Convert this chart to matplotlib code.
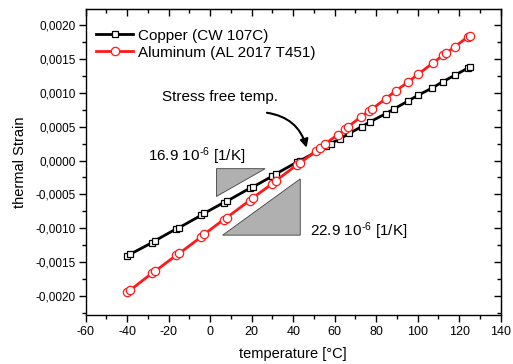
import matplotlib
matplotlib.use("Agg")
import matplotlib.pyplot as plt
from matplotlib.ticker import MultipleLocator, FuncFormatter
from matplotlib.patches import Polygon

plt.rcParams['font.family'] = ['Liberation Sans', 'DejaVu Sans']
plt.rcParams['axes.unicode_minus'] = False
plt.rcParams['mathtext.fontset'] = 'custom'
plt.rcParams['mathtext.rm'] = 'Liberation Sans'
plt.rcParams['mathtext.default'] = 'regular'

# Copper (CW 107C) measurements: temperature [°C] and thermal strain
cu_temp = [-40, -38.5, -28, -26.5, -16.5, -15, -4.5, -3, 6.5, 8, 19, 20.5,
           30, 31.5, 42, 43.5, 56, 58, 62.5, 67, 73, 77, 84.5, 88.5, 95.5,
           100, 107, 112, 118, 124, 125]
cu_strain = [-0.00141, -0.00138, -0.00121, -0.00118, -0.00101, -0.00099,
             -0.00081, -0.00078, -0.00062, -0.00060, -0.00041, -0.00039,
             -0.00023, -0.00020, -0.00002, 0.00000, 0.00021, 0.00025,
             0.00032, 0.00040, 0.00050, 0.00057, 0.00069, 0.00076, 0.00088,
             0.00096, 0.00107, 0.00116, 0.00126, 0.00136, 0.00138]

# Aluminum (AL 2017 T451) measurements
al_temp = [-40, -38.5, -28, -26.5, -16.5, -15, -4.5, -3, 6.5, 8, 19, 20.5,
           30, 31.5, 42, 43.5, 51, 53, 55.5, 61.5, 65, 66.5, 72.5, 76.5, 78,
           84.5, 89.5, 95.5, 100, 107.5, 112, 113.5, 118, 124, 125]
al_strain = [-0.00194, -0.00191, -0.00166, -0.00163, -0.00140, -0.00137,
             -0.00113, -0.00109, -0.00087, -0.00084, -0.00059, -0.00055,
             -0.00034, -0.00030, -0.00006, -0.00003, 0.00014, 0.00019,
             0.00025, 0.00038, 0.00046, 0.00050, 0.00064, 0.00073, 0.00076,
             0.00091, 0.00103, 0.00116, 0.00127, 0.00144, 0.00155, 0.00158,
             0.00168, 0.00182, 0.00184]

# Slope triangles (expansion coefficients)
cu_tri_x = [3, 26.5, 3]
cu_tri_y = [-0.00012, -0.00012, -0.00053]
al_tri_x = [6, 43.4, 43.4]
al_tri_y = [-0.00110, -0.00027, -0.00110]

fig = plt.figure(figsize=(5.13, 3.64), dpi=100)
ax = fig.add_axes([85.7 / 513, 1 - 314.5 / 364, (500.7 - 85.7) / 513, (314.5 - 9.3) / 364])

ax.plot(cu_temp, cu_strain, color='black', lw=2, marker='s', ms=5,
        mfc='white', mec='black', mew=0.9, label='Copper (CW 107C)', zorder=3)
ax.plot(al_temp, al_strain, color='#ff1a1a', lw=2, marker='o', ms=6,
        mfc='white', mec='#ff1a1a', mew=0.9, label='Aluminum (AL 2017 T451)', zorder=4)

for tx, ty in ((cu_tri_x, cu_tri_y), (al_tri_x, al_tri_y)):
    ax.add_patch(Polygon(list(zip(tx, ty)), closed=True, facecolor='#b0b0b0',
                         edgecolor='#404040', lw=0.6, zorder=2))

ax.text(-30, -0.00001, r'16.9 10$^{\text{-6}}$ [1/K]', fontsize=11, ha='left', va='baseline')
ax.text(48.3, -0.00111, r'22.9 10$^{\text{-6}}$ [1/K]', fontsize=11, ha='left', va='baseline')

ax.annotate('', xy=(46.8, 0.00015), xytext=(26.0, 0.00071),
            arrowprops=dict(arrowstyle='-|>', color='black', lw=1.5,
                            connectionstyle='arc3,rad=-0.35', mutation_scale=12))
ax.text(-23.2, 0.00094, 'Stress free temp.', fontsize=11, ha='left', va='center')

ax.set_xlim(-60, 140)
ax.set_ylim(-0.00227, 0.00223)
ax.xaxis.set_major_locator(MultipleLocator(20))
ax.xaxis.set_minor_locator(MultipleLocator(10))
ax.yaxis.set_major_locator(MultipleLocator(0.0005))
ax.yaxis.set_minor_locator(MultipleLocator(0.00025))
ax.yaxis.set_major_formatter(FuncFormatter(lambda v, p: f"{v:.4f}".replace('.', ',').replace('-0,0000', '0,0000')))
ax.xaxis.set_major_formatter(FuncFormatter(lambda v, p: f"{v:.0f}"))
ax.tick_params(which='major', direction='out', length=5, width=1, labelsize=8.5, pad=2)
ax.tick_params(axis='x', which='major', labelsize=9, pad=3)
ax.tick_params(which='minor', direction='out', length=3, width=1)

# inward ticks on the top and right frame
top = ax.secondary_xaxis('top')
top.xaxis.set_major_locator(MultipleLocator(20))
top.xaxis.set_minor_locator(MultipleLocator(10))
top.tick_params(which='major', direction='in', length=5, width=1, labeltop=False)
top.tick_params(which='minor', direction='in', length=3, width=1)
right = ax.secondary_yaxis('right')
right.yaxis.set_major_locator(MultipleLocator(0.0005))
right.yaxis.set_minor_locator(MultipleLocator(0.00025))
right.tick_params(which='major', direction='in', length=5, width=1, labelright=False)
right.tick_params(which='minor', direction='in', length=3, width=1)

for s in ax.spines.values():
    s.set_linewidth(1)

ax.set_xlabel('temperature [°C]', fontsize=10.5, labelpad=7)
ax.set_ylabel('thermal Strain', fontsize=10.5, labelpad=6)

ax.legend(loc='upper left', frameon=False, fontsize=11, handlelength=2.4,
          handletextpad=0.3, borderaxespad=0.3, labelspacing=0.2,
          bbox_to_anchor=(0.0, 0.972))

fig.savefig('out.png', dpi=100)
